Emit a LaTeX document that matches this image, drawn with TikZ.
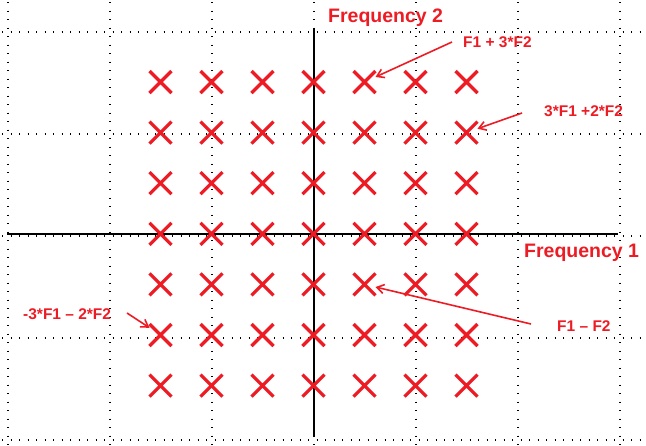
\documentclass[tikz,border=0pt]{standalone}
\usepackage{fontspec}
\setmainfont{Liberation Sans}
\usetikzlibrary{shapes.misc,arrows.meta}
\definecolor{xred}{RGB}{237,28,36}

\begin{document}
\begin{tikzpicture}[x=1pt, y=-1pt,
    gridline/.style = {black, line width=1.2pt, dash pattern=on 1.2pt off 7.3pt},
    axis/.style = {black, line width=2pt},
    xcross/.style = {draw=xred, cross out, line width=3.2pt, minimum size=14pt, inner sep=0pt, outer sep=4pt},
    lab/.style = {text=xred, font=\bfseries\fontsize{15.5}{16}\selectfont, inner sep=0pt, anchor=base west},
    biglab/.style = {text=xred, font=\bfseries\fontsize{19.5}{20}\selectfont, inner sep=0pt, anchor=base west},
    arr/.style = {xred, line width=1.6pt, -{Straight Barb[length=7pt,width=9pt]}}]
    \useasboundingbox (0,0) rectangle (646,445);
    % dotted grid
    \foreach \gx in {8,110,...,620}
        \draw[gridline] (\gx,2) -- (\gx,445);
    \foreach \gy in {32,134,...,440}
        \draw[gridline] (2,\gy) -- (646,\gy);
    % axes
    \coordinate (xa) at (7,233.5);
    \coordinate (xb) at (618,233.5);
    \coordinate (ya) at (313.5,29);
    \coordinate (yb) at (313.5,436);
    \draw[axis] (xa) -- (xb);
    \draw[axis] (ya) -- (yb);
    % crosses
    \foreach \r in {1,...,7}
        \foreach \c in {1,...,7}
            \node[xcross] (c\r\c) at ({160.5+51*(\c-1)},{82+50.6*(\r-1)}) {};
    % labels
    \node[biglab] (f2) at (328,22.5) {Frequency 2};
    \node[biglab] (f1) at (524,257.3) {Frequency 1};
    \node[lab] (l1) at (463,47.3) {F1 + 3*F2};
    \node[lab] (l2) at (544,116) {3*F1 +2*F2};
    \node[lab] (l3) at (23,319.3) {-3*F1 – 2*F2};
    \node[lab] (l4) at (557,331.7) {F1 – F2};
    \coordinate (t1) at (452,42);
    \coordinate (t2) at (522,113);
    \coordinate (t3) at (127,313);
    \coordinate (t4) at (531,324);
    \draw[arr] (t1) -- (c15);
    \draw[arr] (t2) -- (c27);
    \draw[arr] (t3) -- (c61);
    \draw[arr] (t4) -- (c55);
\end{tikzpicture}
\end{document}
